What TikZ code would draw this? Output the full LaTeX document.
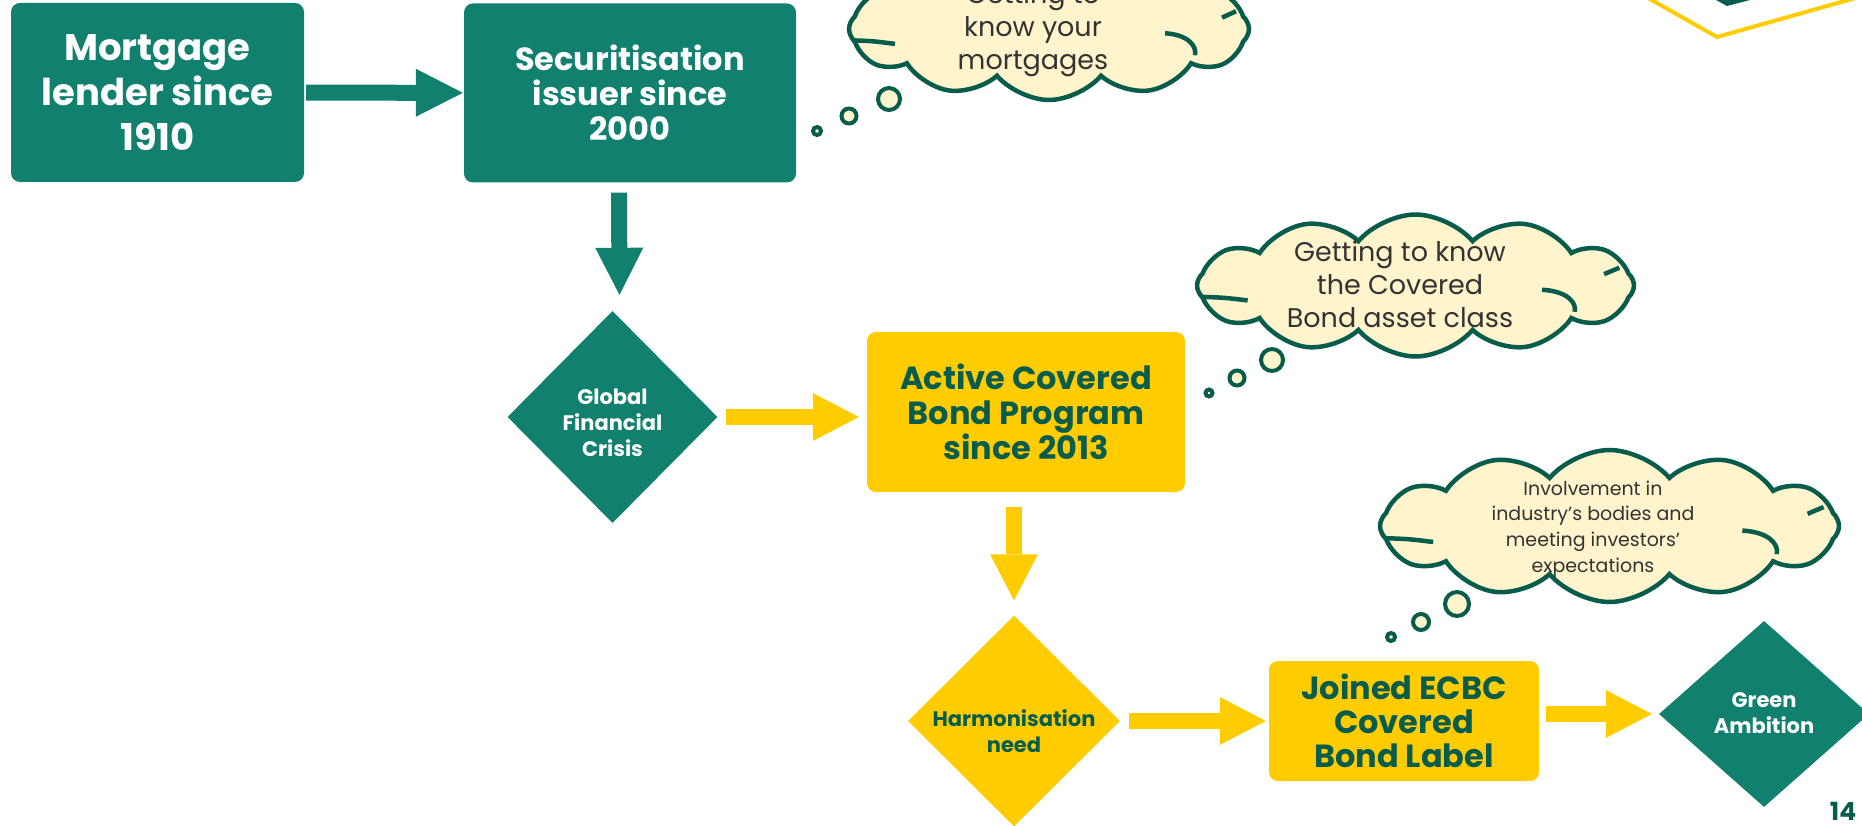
\documentclass[tikz,border=0pt]{standalone}
\usepackage{fontspec}
\setmainfont{Poppins}
\usepackage{tikz}
\usetikzlibrary{shapes,arrows.meta,calc}
\definecolor{boxgreen}{RGB}{17,128,110}
\definecolor{inkgreen}{RGB}{8,92,76}
\definecolor{gold}{RGB}{255,204,0}
\definecolor{cream}{RGB}{255,244,204}
\definecolor{cloudtext}{RGB}{51,51,51}

% inner strokes of a thought cloud: node name, half width, half height
\newcommand{\puffmarks}[3]{%
  \draw[inkgreen,line width=4.5pt]
    ($(#1.center)+(-0.985*#2,0.16*#3)$) .. controls ($(#1.center)+(-0.88*#2,0.17*#3)$) .. ($(#1.center)+(-0.77*#2,0.21*#3)$)
    ($(#1.center)+(0.58*#2,0.06*#3)$) .. controls ($(#1.center)+(0.70*#2,0.08*#3)$) and ($(#1.center)+(0.74*#2,0.25*#3)$) .. ($(#1.center)+(0.73*#2,0.37*#3)$)
    ($(#1.center)+(0.865*#2,-0.16*#3)$) -- ($(#1.center)+(0.935*#2,-0.25*#3)$);}

\begin{document}
\begin{tikzpicture}[x=1pt,y=-1pt,
  tealbox/.style={rectangle,rounded corners=9pt,fill=boxgreen,text=white,align=center,inner sep=0pt},
  goldbox/.style={rectangle,rounded corners=9pt,fill=gold,text=inkgreen,align=center,inner sep=0pt},
  tealdiamond/.style={diamond,fill=boxgreen,inner sep=0pt},
  golddiamond/.style={diamond,fill=gold,inner sep=0pt},
  diamondtext/.style={align=center,inner sep=0pt,font=\bfseries\fontsize{21}{26}\selectfont},
  thought/.style={cloud,cloud puffs=12,cloud puff arc=100,cloud ignores aspect,draw=inkgreen,line width=4.5pt,fill=cream,inner sep=0pt},
  thoughttext/.style={text=cloudtext,align=center,inner sep=0pt},
  bubble/.style={circle,draw=inkgreen,line width=4pt,fill=cream,inner sep=0pt},
  tealarrow/.style={draw=boxgreen,line width=16pt,-{Triangle[length=47pt,width=48pt,line width=0pt]}},
  goldarrow/.style={draw=gold,line width=16pt,-{Triangle[length=46pt,width=48pt,line width=0pt]}}]
\useasboundingbox (0,0) rectangle (1862,826);
\clip (0,0) rectangle (1862,826);

% corner decoration
\fill[inkgreen] (1716,0) -- (1727,6) -- (1750,0) -- cycle;
\draw[gold,line width=4pt] (1648,-2) -- (1717,37) -- (1866,-5);

\node[tealbox,minimum width=293pt,minimum height=179pt,font=\bfseries\fontsize{37}{45}\selectfont]
  (lender) at (157.5,92.5) {Mortgage\\lender since\\1910};
\node[tealbox,minimum width=332pt,minimum height=179pt,font=\bfseries\fontsize{32}{35}\selectfont]
  (issuer) at (630,93) {Securitisation\\issuer since\\2000};
\node[tealdiamond,minimum width=210pt,minimum height=212pt] (crisis) at (612.5,417) {};
\node[diamondtext,text=white] (crisistext) at ([yshift=-6pt]crisis.center) {Global\\Financial\\Crisis};
\node[goldbox,minimum width=318pt,minimum height=160pt,font=\bfseries\fontsize{32}{35}\selectfont]
  (active) at (1026,412) {Active Covered\\Bond Program\\since 2013};
\node[golddiamond,minimum width=212pt,minimum height=211pt] (harmony) at (1014,721) {};
\node[diamondtext,text=inkgreen] (harmonytext) at ([yshift=-10pt]harmony.center) {Harmonisation\\need};
\node[goldbox,minimum width=270pt,minimum height=120pt,font=\bfseries\fontsize{32}{34}\selectfont]
  (joined) at (1404,721) {Joined ECBC\\Covered\\Bond Label};
\node[tealdiamond,minimum width=210pt,minimum height=186pt] (green) at (1764,714) {};
\node[diamondtext,text=white] (greentext) at ([yshift=1pt]green.center) {Green\\Ambition};

\draw[tealarrow,shorten <=2pt,shorten >=1pt] (lender) -- (issuer);
\draw[tealarrow] ([xshift=-11pt,yshift=-10pt]issuer.south) -- ([xshift=7pt,yshift=16pt]crisis.north);
\draw[goldarrow,shorten <=8pt,shorten >=8pt] (crisis.east) -- (crisis.east -| active.west);
\draw[goldarrow,shorten <=15pt,shorten >=15pt] (harmony.north |- active.south) -- (harmony.north);
\draw[goldarrow,shorten <=9pt,shorten >=3pt] (harmony.east) -- (joined.west);
\draw[goldarrow,shorten <=7pt,shorten >=7pt] (green.west -| joined.east) -- (green.west);

% thought clouds
\node[bubble,minimum size=8pt] (a1) at (817,131) {};
\node[bubble,minimum size=15pt] (a2) at (849,116) {};
\node[bubble,minimum size=22pt] (a3) at (889,99) {};
\node[thought,minimum width=400pt,minimum height=142pt] (know) at (1049,29) {};
\puffmarks{know}{200}{71}
\node[thoughttext,font=\fontsize{27}{33}\selectfont] (knowtext) at (1033,30) {Getting to\\know your\\mortgages};

\node[bubble,minimum size=7pt] (b1) at (1209,393) {};
\node[bubble,minimum size=15pt] (b2) at (1237,378) {};
\node[bubble,minimum size=22pt] (b3) at (1272,360) {};
\node[thought,minimum width=437pt,minimum height=142pt] (asset) at (1415.5,285.5) {};
\puffmarks{asset}{218}{71}
\node[thoughttext,font=\fontsize{27}{33}\selectfont] (assettext) at (1400,284) {Getting to know\\the Covered\\Bond asset class};

\node[bubble,minimum size=8pt] (c1) at (1391,637) {};
\node[bubble,minimum size=16pt] (c2) at (1421,622) {};
\node[bubble,minimum size=24pt] (c3) at (1457,604) {};
\node[thought,minimum width=459pt,minimum height=152pt] (bodies) at (1609.5,526) {};
\puffmarks{bodies}{229}{76}
\node[thoughttext,font=\fontsize{19}{25.8}\selectfont] (bodiestext) at (1593,529) {Involvement in\\industry’s bodies and\\meeting investors’\\expectations};

\node[text=inkgreen,font=\bfseries\fontsize{25}{25}\selectfont] (page) at (1843,811) {14};
\end{tikzpicture}
\end{document}
